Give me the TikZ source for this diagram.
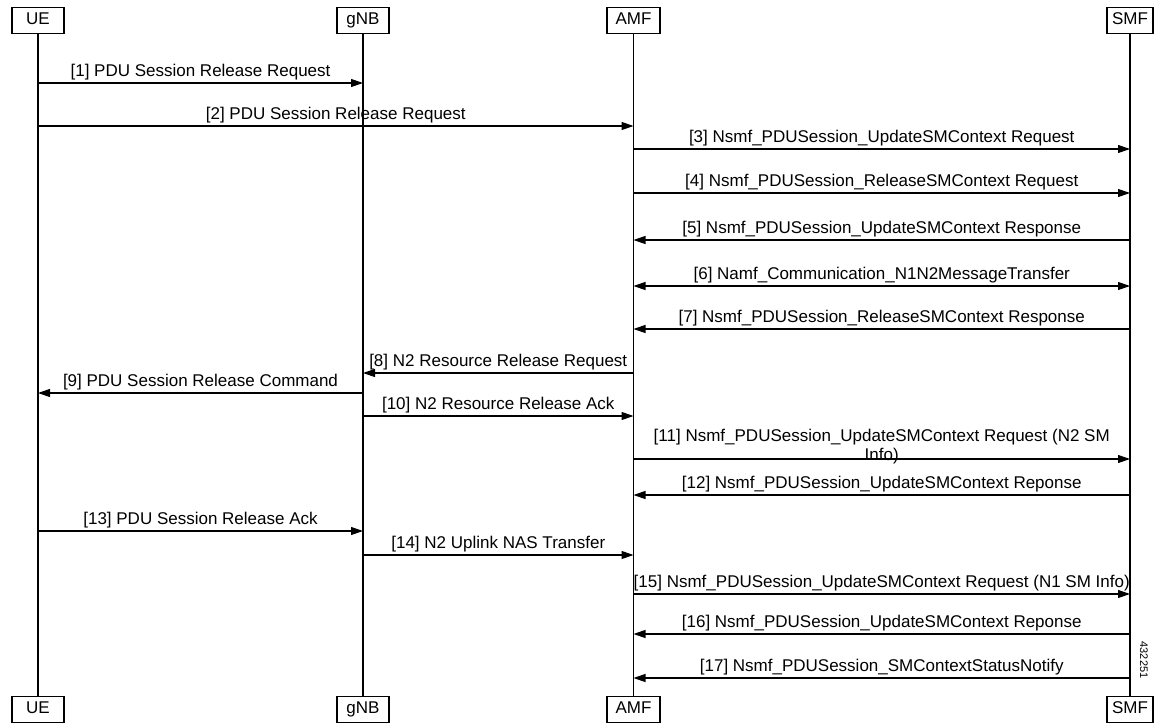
\documentclass[tikz,border=0pt]{standalone}
\usepackage{fontspec}
\setmainfont{Liberation Sans}
\usetikzlibrary{arrows.meta}

\tikzset{
  actor/.style={draw,line width=1.1pt,minimum width=52pt,minimum height=26pt,inner xsep=5pt,inner ysep=0pt,
    text height=12pt,text depth=3.5pt},
  life/.style={line width=1.1pt},
  msg/.style={line width=1.1pt,->},
  lbl/.style={above,inner sep=2pt}
}

\begin{document}
\begin{tikzpicture}[x=1pt,y=-1pt,>={Triangle[length=12pt,width=8pt]},
    font=\fontsize{17}{19.5}\selectfont]
    \useasboundingbox (0,0) rectangle (1165,723);

    % participants, top and bottom
    \node[actor] (ue)  at (38,20.5)   {UE};
    \node[actor] (gnb) at (363,20.5)  {gNB};
    \node[actor,minimum width=53pt] (amf) at (633.5,20.5) {AMF};
    \node[actor,minimum width=46pt] (smf) at (1130,20.5)  {SMF};
    \node[actor] (ueB)  at (38,709.5)  {UE};
    \node[actor] (gnbB) at (363,709.5) {gNB};
    \node[actor,minimum width=53pt] (amfB) at (633.5,709.5) {AMF};
    \node[actor,minimum width=46pt] (smfB) at (1130,709.5) {SMF};

    \draw[life] (ue) -- (ueB);
    \draw[life] (gnb) -- (gnbB);
    \draw[life] (amf) -- (amfB);
    \draw[life] (smf) -- (smfB);

    % messages
    \draw[msg] (ue |- 0,83)  -- (gnb |- 0,83)  node[lbl,midway] {[1] PDU Session Release Request};
    \draw[msg] (ue |- 0,126) -- (amf |- 0,126) node[lbl,midway] {[2] PDU Session Release Request};
    \draw[msg] (amf |- 0,149) -- (smf |- 0,149) node[lbl,midway] {[3] Nsmf\_PDUSession\_UpdateSMContext Request};
    \draw[msg] (amf |- 0,193) -- (smf |- 0,193) node[lbl,midway] {[4] Nsmf\_PDUSession\_ReleaseSMContext Request};
    \draw[msg] (smf |- 0,240) -- (amf |- 0,240) node[lbl,midway] {[5] Nsmf\_PDUSession\_UpdateSMContext Response};
    \draw[msg,<->] (amf |- 0,286) -- (smf |- 0,286) node[lbl,midway] {[6] Namf\_Communication\_N1N2MessageTransfer};
    \draw[msg] (smf |- 0,329) -- (amf |- 0,329) node[lbl,midway] {[7] Nsmf\_PDUSession\_ReleaseSMContext Response};
    \draw[msg] (amf |- 0,373) -- (gnb |- 0,373) node[lbl,midway] {[8] N2 Resource Release Request};
    \draw[msg] (gnb |- 0,393) -- (ue |- 0,393)  node[lbl,midway] {[9] PDU Session Release Command};
    \draw[msg] (gnb |- 0,416) -- (amf |- 0,416) node[lbl,midway] {[10] N2 Resource Release Ack};
    \draw[msg] (amf |- 0,459) -- (smf |- 0,459) node[lbl,midway,align=center,yshift=-8pt]
        {[11] Nsmf\_PDUSession\_UpdateSMContext Request (N2 SM\\Info)};
    \draw[msg] (smf |- 0,495) -- (amf |- 0,495) node[lbl,midway] {[12] Nsmf\_PDUSession\_UpdateSMContext Reponse};
    \draw[msg] (ue |- 0,531) -- (gnb |- 0,531)  node[lbl,midway] {[13] PDU Session Release Ack};
    \draw[msg] (gnb |- 0,555) -- (amf |- 0,555) node[lbl,midway] {[14] N2 Uplink NAS Transfer};
    \draw[msg] (amf |- 0,594) -- (smf |- 0,594) node[lbl,midway] {[15] Nsmf\_PDUSession\_UpdateSMContext Request (N1 SM Info)};
    \draw[msg] (smf |- 0,634) -- (amf |- 0,634) node[lbl,midway] {[16] Nsmf\_PDUSession\_UpdateSMContext Reponse};
    \draw[msg] (smf |- 0,678) -- (amf |- 0,678) node[lbl,midway] {[17] Nsmf\_PDUSession\_SMContextStatusNotify};

    \node[rotate=-90,font=\fontsize{11}{13}\selectfont] (figid) at (1144,660) {432251};
\end{tikzpicture}
\end{document}
